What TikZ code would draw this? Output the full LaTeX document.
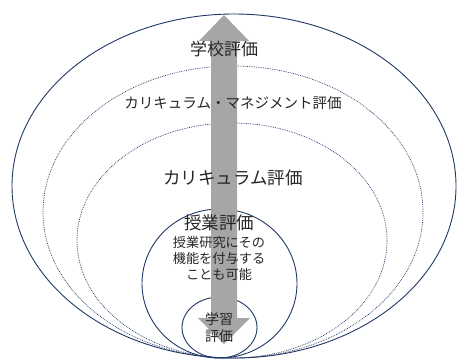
\documentclass[tikz,border=0pt]{standalone}
\usepackage{fontspec}
\setmainfont{Noto Sans CJK JP}
\usetikzlibrary{shapes.geometric}
\definecolor{navy}{HTML}{203864}
\definecolor{arrowgray}{HTML}{A6A6A6}
\definecolor{txt}{HTML}{262626}
\tikzset{
  ring/.style={draw=navy, line width=0.9bp, ellipse, inner sep=0pt},
  dotring/.style={draw=navy, line width=0.7bp, dash pattern=on 0.8bp off 1bp, ellipse, inner sep=0pt},
  lbl/.style={text=txt, inner sep=0pt, align=center}
}
\begin{document}
\begin{tikzpicture}[x=1bp,y=-1bp]
\useasboundingbox (0,0) rectangle (459,360);
\clip (0,0) rectangle (459,360);
% ellipses
\node[ring, minimum width=444bp, minimum height=344bp] (school) at (234,186) {};
\node[dotring, minimum width=380bp, minimum height=292bp] (cm) at (233,212) {};
\node[dotring, minimum width=310bp, minimum height=235bp] (cur) at (232,240.5) {};
\node[ring, minimum width=155bp, minimum height=149bp] (lesson) at (219.5,283.5) {};
\node[ring, minimum width=75bp, minimum height=61bp] (learn) at (219.5,327.5) {};
% double arrow
\fill[arrowgray] (224,15) -- (249,41) -- (237,41) -- (237,318) -- (250,318) -- (224,344)
  -- (198,318) -- (211,318) -- (211,41) -- (199,41) -- cycle;
% labels
\node[lbl, font=\fontsize{17bp}{20bp}\selectfont] (t1) at (224,49) {学校評価};
\node[lbl, font=\fontsize{14.5bp}{17bp}\selectfont] (t2) at (233,103) {カリキュラム・マネジメント評価};
\node[lbl, font=\fontsize{17.5bp}{20bp}\selectfont] (t3) at (233,178) {カリキュラム評価};
\node[lbl, font=\fontsize{17.5bp}{20bp}\selectfont] (t4) at (219,223) {授業評価};
\node[lbl, font=\fontsize{13.2bp}{16bp}\selectfont] (t5) at (219,258) {授業研究にその\\機能を付与する\\ことも可能};
\node[lbl, font=\fontsize{14bp}{17bp}\selectfont] (t6) at (219,327.5) {学習\\評価};
\end{tikzpicture}
\end{document}
